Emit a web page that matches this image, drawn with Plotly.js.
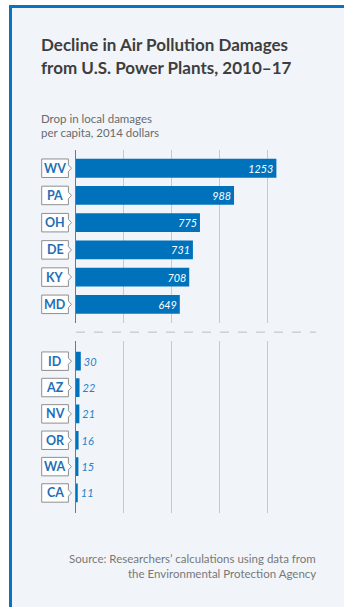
<!DOCTYPE html>
<html>
<head>
<meta charset="utf-8">
<script src="https://cdn.plot.ly/plotly-3.0.1.min.js"></script>
<style>
  html, body { margin: 0; padding: 0; background: #ffffff; }
  #bg { position: absolute; left: 9px; top: 5px; width: 335px; height: 602px;
        background: #f1f5fa; border-left: 3px solid #0a72be; border-top: 3px solid #0a72be; box-sizing: border-box; }
  #chart { position: absolute; left: 0; top: 0; width: 344px; height: 607px; }
</style>
</head>
<body>
<div id="bg"></div>
<div id="chart"></div>
<script>
// ---- data ----
const topStates = ["WV", "PA", "OH", "DE", "KY", "MD"];
const topValues = [1253, 988, 775, 731, 708, 649];
const bottomStates = ["ID", "AZ", "NV", "OR", "WA", "CA"];
const bottomValues = [30, 22, 21, 16, 15, 11];

const titleLines = ["Decline in Air Pollution Damages", "from U.S. Power Plants, 2010–17"];
const subtitleLines = ["Drop in local damages", "per capita, 2014 dollars"];
const sourceLines = ["Source: Researchers’ calculations using data from", "the Environmental Protection Agency"];

// ---- geometry helpers (figure pixels -> paper) ----
const W = 344, H = 607;
const M = { l: 76.3, r: 27.7, t: 150, b: 93.7 };
const PW = W - M.l - M.r, PH = H - M.t - M.b;
const px = x => (x - M.l) / PW;
const py = y => (H - M.b - y) / PH;

const BLUE = "#0072bc";
const FONT = "Lato, 'Source Sans Pro', 'Noto Sans', sans-serif";

const traces = [
  {
    type: "bar", orientation: "h",
    x: topValues, y: topStates, xaxis: "x", yaxis: "y",
    width: 0.69,
    marker: { color: BLUE },
    text: topValues.map(String),
    textposition: "inside", insidetextanchor: "end",
    textfont: { color: "#ffffff", size: 11, family: FONT, style: "italic" },
    hoverinfo: "x+y", cliponaxis: false
  },
  {
    type: "bar", orientation: "h",
    x: bottomValues, y: bottomStates, xaxis: "x", yaxis: "y2",
    width: 0.71,
    marker: { color: BLUE },
    text: bottomValues.map(String),
    textposition: "outside",
    textfont: { color: "#2a7fc4", size: 11, family: FONT, style: "italic" },
    hoverinfo: "x+y", cliponaxis: false
  }
];

// label boxes with chevrons
const shapes = [];
const annotations = [];
const bx0 = px(42), bx1 = px(68.7), bxt = px(71.8);
function addLabels(states, yref, h) {
  states.forEach((s, i) => {
    shapes.push({
      type: "path", xref: "paper", yref: yref, layer: "above",
      path: `M${bx0},${i - h} L${bx1},${i - h} L${bx1},${i - 0.12} L${bxt},${i} L${bx1},${i + 0.12} L${bx1},${i + h} L${bx0},${i + h} Z`,
      fillcolor: "#ffffff", line: { color: "#8f8f8f", width: 1 }
    });
    annotations.push({
      xref: "paper", yref: yref, x: (bx0 + bx1) / 2, y: s, text: s,
      showarrow: false, xanchor: "center", yanchor: "middle",
      borderpad: 0, borderwidth: 0,
      font: { family: FONT, size: 12.5, color: "#1f6fb5", weight: 700 }
    });
  });
}
addLabels(topStates, "y", 0.34);
addLabels(bottomStates, "y2", 0.35);

// dashed separator
shapes.push({
  type: "line", xref: "paper", yref: "paper",
  x0: 0, x1: 1, y0: py(332.3), y1: py(332.3),
  line: { color: "#bdbdbd", width: 1, dash: "dash" }
});

function addLine(text, xPix, yPix, anchor, font) {
  annotations.push({
    xref: "paper", yref: "paper", x: px(xPix), y: py(yPix),
    xanchor: anchor, yanchor: "middle", text: text, showarrow: false,
    borderpad: 0, borderwidth: 0,
    font: font
  });
}
const titleFont = { family: FONT, size: 17, color: "#3e3e3e", weight: 700 };
addLine(titleLines[0], 41, 44.7, "left", titleFont);
addLine(titleLines[1], 41, 67.2, "left", titleFont);
const subFont = { family: FONT, size: 11.5, color: "#6b6b6b" };
addLine(subtitleLines[0], 41.3, 118.0, "left", subFont);
addLine(subtitleLines[1], 41.3, 132.0, "left", subFont);
const srcFont = { family: FONT, size: 11.5, color: "#787878" };
addLine(sourceLines[0], 316.5, 558.8, "right", srcFont);
addLine(sourceLines[1], 316.5, 573.5, "right", srcFont);

const layout = {
  width: W, height: H,
  margin: M,
  paper_bgcolor: "rgba(0,0,0,0)",
  plot_bgcolor: "rgba(0,0,0,0)",
  showlegend: false,
  font: { family: FONT },
  xaxis: {
    range: [0, 1500.5], dtick: 300, tick0: 0,
    showticklabels: false, ticks: "",
    showgrid: true, gridcolor: "#c9c9c9", gridwidth: 1,
    zeroline: false, showline: false, fixedrange: true
  },
  yaxis: {
    domain: [py(322.7), 1], type: "category",
    range: [5.67, -0.67], showticklabels: false, ticks: "",
    showgrid: false, zeroline: false,
    showline: true, linecolor: "#777777", linewidth: 1.3
  },
  yaxis2: {
    domain: [0, py(341.3)], type: "category",
    range: [5.76, -0.76], showticklabels: false, ticks: "",
    showgrid: false, zeroline: false,
    showline: true, linecolor: "#777777", linewidth: 1.3
  },
  shapes: shapes,
  annotations: annotations
};

Plotly.newPlot("chart", traces, layout, { displayModeBar: false, staticPlot: true });
</script>
</body>
</html>
